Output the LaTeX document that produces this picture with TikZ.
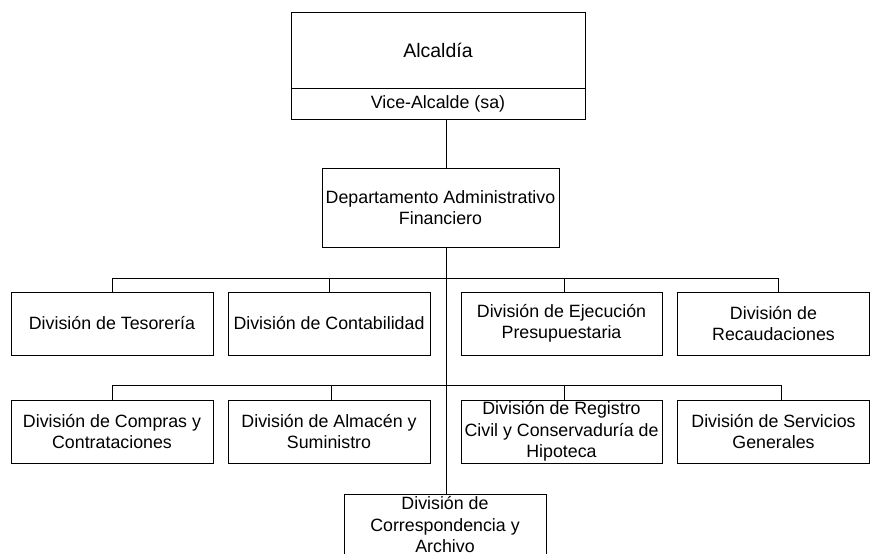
\documentclass[tikz,border=0pt]{standalone}
\usepackage{fontspec}
\setmainfont{Liberation Sans}
\begin{document}
\begin{tikzpicture}[x=1pt,y=-1pt,
  box/.style={draw=black,line width=0.9pt,fill=white,rectangle,inner sep=0pt,align=center,
    font=\fontsize{17.8}{21.5}\selectfont},
  conn/.style={draw=black,line width=0.9pt}]
\useasboundingbox (0,0) rectangle (870,554);
% top
\node[box,minimum width=294,minimum height=76,font=\fontsize{19.5}{23}\selectfont] (alc) at (438,50) {Alcaldía};
\node[box,minimum width=294,minimum height=31] (vice) at (438,103.5) {Vice-Alcalde (sa)};
\node[box,minimum width=237,minimum height=79] (dept) at (440.5,207.5) {Departamento Administrativo\\Financiero};
% row 1
\node[box,minimum width=202,minimum height=63] (tes) at (112,323.5) {División de Tesorería};
\node[box,minimum width=202,minimum height=63] (con) at (329,323.5) {División de Contabilidad};
\node[box,minimum width=201,minimum height=63] (eje) at (561.5,323.5) {División de Ejecución\\Presupuestaria};
\node[box,minimum width=192,minimum height=63] (rec) at (773.5,323.5) {División de\\Recaudaciones};
% row 2
\node[box,minimum width=202,minimum height=63] (com) at (112,431.5) {División de Compras y\\Contrataciones};
\node[box,minimum width=202,minimum height=63] (alm) at (329,431.5) {División de Almacén y\\Suministro};
\node[box,minimum width=201,minimum height=63] (reg) at (561.5,431.5) {División de Registro\\Civil y Conservaduría de\\Hipoteca};
\node[box,minimum width=192,minimum height=63] (ser) at (773.5,431.5) {División de Servicios\\Generales};
% bottom
\node[box,minimum width=202,minimum height=62] (cor) at (445,525) {División de\\Correspondencia y\\Archivo};
% coordinates
\coordinate (t) at (446,0);
\coordinate (bus1) at (0,278);
\coordinate (bus2) at (0,385);
% connectors
\draw[conn] (vice.south -| t) -- (dept.north -| t);
\draw[conn] (dept.south -| t) -- (cor.north -| t);
\draw[conn] (tes.north) -- (tes.north |- bus1) -- ([xshift=4.5pt]rec.north |- bus1) -- ([xshift=4.5pt]rec.north);
\draw[conn] (con.north) -- (con.north |- bus1);
\draw[conn] ([xshift=2.5pt]eje.north) -- ([xshift=2.5pt]eje.north |- bus1);
\draw[conn] (com.north) -- (com.north |- bus2) -- ([xshift=7.5pt]ser.north |- bus2) -- ([xshift=7.5pt]ser.north);
\draw[conn] ([xshift=2pt]alm.north) -- ([xshift=2pt]alm.north |- bus2);
\draw[conn] ([xshift=2.5pt]reg.north) -- ([xshift=2.5pt]reg.north |- bus2);
\end{tikzpicture}
\end{document}
